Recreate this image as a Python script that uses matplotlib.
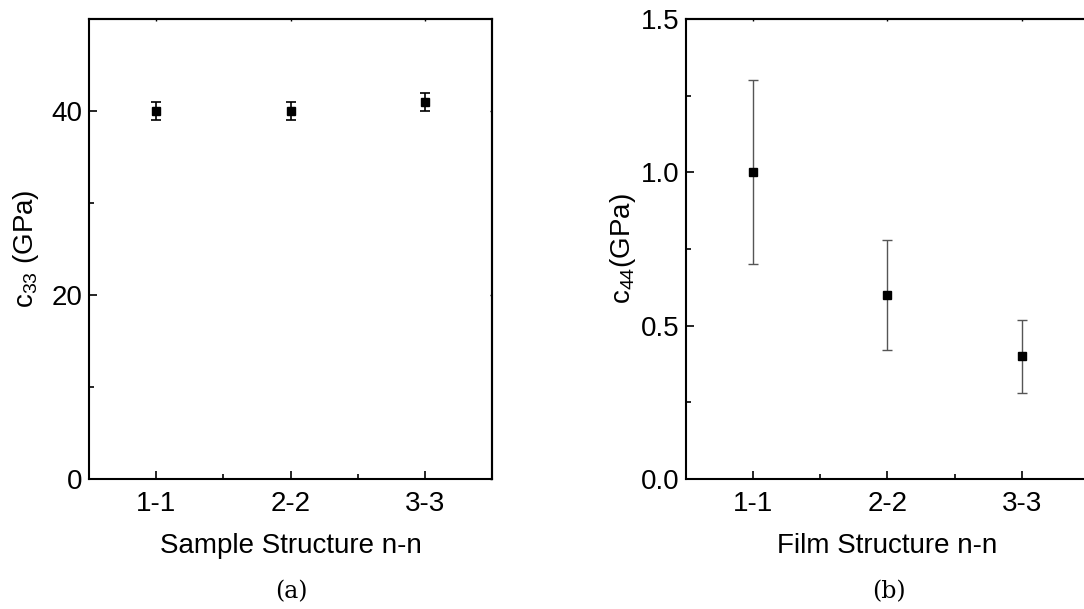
import matplotlib.pyplot as plt
from matplotlib.ticker import MultipleLocator

plt.rcParams['font.family'] = ['Liberation Sans', 'DejaVu Sans']
plt.rcParams['mathtext.fontset'] = 'custom'
plt.rcParams['mathtext.rm'] = 'Liberation Sans'
plt.rcParams['mathtext.it'] = 'Liberation Sans'

structures = ['1-1', '2-2', '3-3']
c33 = [40, 40, 41]
c33_err = [1, 1, 1]
c44 = [1.0, 0.6, 0.4]
c44_err = [0.3, 0.18, 0.12]

fig = plt.figure(figsize=(10.84, 6.09), dpi=100)
ax1 = fig.add_axes([0.0821, 0.2135, 0.3718, 0.7553])
ax2 = fig.add_axes([0.6328, 0.2135, 0.3718, 0.7553])

pos = [1, 2, 3]

ax1.errorbar(pos, c33, yerr=c33_err, fmt='s', color='black', ms=5.5,
             ecolor='black', elinewidth=1.2, capsize=3.5, capthick=1.2)
ax2.errorbar(pos, c44, yerr=c44_err, fmt='s', color='black', ms=5.5,
             ecolor='#555555', elinewidth=1.0, capsize=3.5, capthick=1.0)

for ax in (ax1, ax2):
    ax.set_xlim(0.5, 3.5)
    ax.set_xticks(pos)
    ax.set_xticklabels(structures)
    ax.xaxis.set_minor_locator(MultipleLocator(0.5))
    for s in ax.spines.values():
        s.set_linewidth(1.5)
    ax.tick_params(which='both', direction='in', labelsize=20, width=1.2)
    ax.tick_params(which='major', length=6, pad=5)
    ax.tick_params(axis='x', which='major', pad=9)
    ax.tick_params(which='minor', length=3.5)

ax1.set_ylim(0, 50)
ax1.set_yticks([0, 20, 40])
ax1.yaxis.set_minor_locator(MultipleLocator(10))
ax1.set_xlabel('Sample Structure n-n', fontsize=20, labelpad=11)
ax1.set_ylabel(r'c$_{33}$ (GPa)', fontsize=20, labelpad=7)

ax2.set_ylim(0, 1.5)
ax2.set_yticks([0.0, 0.5, 1.0, 1.5])
ax2.set_yticklabels(['0.0', '0.5', '1.0', '1.5'])
ax2.yaxis.set_minor_locator(MultipleLocator(0.25))
ax2.set_xlabel('Film Structure n-n', fontsize=20, labelpad=11)
ax2.set_ylabel(r'c$_{44}$(GPa)', fontsize=20, labelpad=2)

# tiny mirrored ticks on top and right
for ax in (ax1, ax2):
    sx = ax.secondary_xaxis('top')
    sx.set_xticks(pos)
    sx.tick_params(direction='in', length=1.5, width=1, labeltop=False)
    sy = ax.secondary_yaxis('right')
    sy.set_yticks(ax.get_yticks())
    sy.tick_params(direction='in', length=1.5, width=1, labelright=False)
    sx.spines['top'].set_linewidth(1.5)
    sy.spines['right'].set_linewidth(1.5)

fig.text(0.269, 0.029, '(a)', fontfamily='DejaVu Serif', fontsize=17,
         ha='center', va='center')
fig.text(0.820, 0.029, '(b)', fontfamily='DejaVu Serif', fontsize=17,
         ha='center', va='center')

fig.savefig('out.png', dpi=100)
